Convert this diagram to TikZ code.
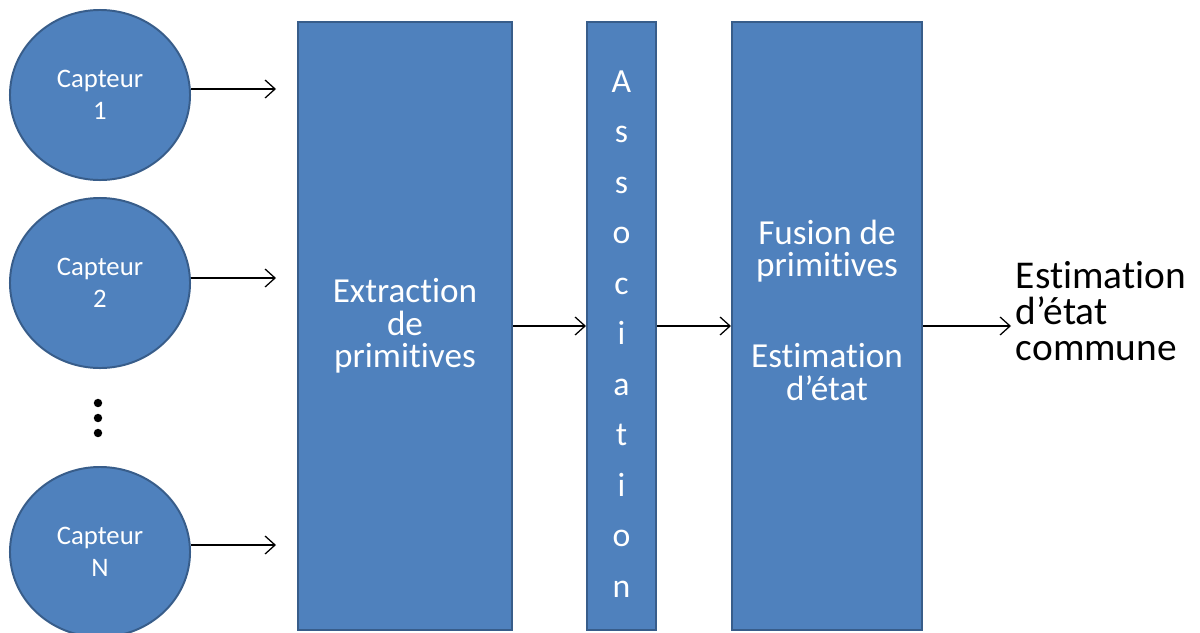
\documentclass[tikz,border=0pt]{standalone}
\usepackage{fontspec}
\setmainfont{Carlito}[Ligatures={NoCommon,NoContextual}]
\usetikzlibrary{shapes.geometric,arrows.meta}
\definecolor{boxblue}{HTML}{4F81BD}
\definecolor{boxedge}{HTML}{385D8A}
\tikzset{
    capteur/.style={ellipse, draw=boxedge, fill=boxblue, line width=1.4pt,
        minimum width=4.5cm, minimum height=4.25cm, text=white, align=center,
        font=\fontsize{19}{22.5}\selectfont},
    bloc/.style={rectangle, draw=boxedge, fill=boxblue, line width=1.4pt,
        minimum height=15.2cm, text=white, align=center,
        font=\fontsize{25}{23}\selectfont},
    lettres/.style={text=white, align=center, font=\fontsize{24}{35.9}\selectfont},
    fleche/.style={-{Straight Barb[length=2.5mm,width=4.5mm]}, line width=0.9pt},
}
\begin{document}
\begin{tikzpicture}[x=0.025cm, y=-0.025cm]
    \clip (0,0) rectangle (1200,632);

    % Capteurs
    \node[capteur] (c1) at (100,95) {Capteur\\1};
    \node[capteur] (c2) at (100,283) {Capteur\\2};
    \node[capteur] (cN) at (100,552) {Capteur\\N};
    \foreach \y in {403,418,433}
        \fill (98,\y) circle (3pt);

    % Blocs de traitement
    \node[bloc, minimum width=5.35cm] (extr) at (405,326) {Extraction\\de\\primitives};
    \node[bloc, minimum width=1.725cm] (assoc) at (621.5,326) {};
    \node[lettres] (assoctxt) at (621.5,334) {A\\s\\s\\o\\c\\i\\a\\t\\i\\o\\n};
    \node[bloc, minimum width=4.75cm] (fusion) at (827,326) {};
    \node[lettres, font=\fontsize{25}{23}\selectfont] (fusiontxt) at (827,310)
        {Fusion de\\primitives\\[42pt]Estimation\\d’état};

    % Sortie
    \node[anchor=west, align=left, font=\fontsize{28}{25.5}\selectfont] (sortie)
        at (1011,311) {Estimation\\d’état\\commune};

    % Fleches
    \coordinate (s1) at (276,89);
    \coordinate (s2) at (276,278);
    \coordinate (sN) at (276,545);
    \draw[fleche] (c1.east |- s1) -- (s1);
    \draw[fleche] (c2.east |- s2) -- (s2);
    \draw[fleche] (cN.east |- sN) -- (sN);
    \draw[fleche] (extr.east) -- (assoc.west);
    \draw[fleche] (assoc.east) -- (fusion.west);
    \draw[fleche] (fusion.east) -- (sortie.west |- fusion.east);
\end{tikzpicture}
\end{document}
